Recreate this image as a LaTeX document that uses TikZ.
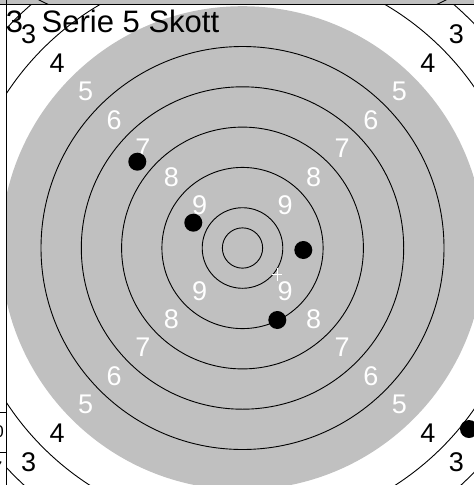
\documentclass[tikz,border=0pt]{standalone}
\usepackage{fontspec}
\setmainfont{Liberation Sans}
\definecolor{tgray}{HTML}{C0C0C0}
\begin{document}
\begin{tikzpicture}[x=1pt,y=-1pt,
  ring/.style={draw=black,line width=0.9pt},
  wlab/.style={text=white,font=\fontsize{27}{27}\selectfont,inner sep=0pt},
  blab/.style={text=black,font=\fontsize{27}{27}\selectfont,inner sep=0pt},
  hole/.style={circle,fill=black,minimum size=18pt,inner sep=0pt},
  frame/.style={draw=black,line width=1pt}]
\useasboundingbox (0,0) rectangle (474,485);
\fill[white] (0,0) rectangle (474,485);
% top band (bottom edge of the panel above)
\fill[tgray] (0,0) rectangle (474,4.3);
\begin{scope}
  \clip (0,0) rectangle (474,4.3);
  \draw[black,line width=0.9pt] (242.5,-401) circle (449.5);
\end{scope}
\draw[frame] (0,4.3) -- (474,4.3);
% target
\coordinate (C) at (242.5,248);
\begin{scope}
  \clip (6.5,4.8) rectangle (474,485);
  \fill[tgray] (C) circle (241.8);
  \foreach \r in {20.15,40.3,80.6,120.9,161.2,201.5,282.1,322.4}
    \draw[ring] (C) circle (\r);
  \foreach \v/\r/\s in {9/60.45/wlab,8/100.75/wlab,7/141/wlab,6/181.4/wlab,5/221.7/wlab,4/262/blab,3/302.3/blab}{
    \pgfmathsetmacro{\d}{\r*0.7071}
    \node[\s] (tl\v) at (242.5-\d,248-\d) {\v};
    \node[\s] (tr\v) at (242.5+\d,248-\d) {\v};
    \node[\s] (bl\v) at (242.5-\d,248+\d) {\v};
    \node[\s] (br\v) at (242.5+\d,248+\d) {\v};
  }
  \node[hole] (h1) at (193.3,222.7) {};
  \node[hole] (h2) at (303.3,250) {};
  \node[hole] (h3) at (277.3,320) {};
  \node[hole] (h4) at (137.3,161.7) {};
  \node[hole] (h5) at (469,429) {};
  \draw[white,line width=0.8pt] (272,274) -- (282,274) (277,267.5) -- (277,281);
  \node[anchor=base west,inner sep=0pt,font=\fontsize{31}{31}\selectfont] (title) at (5.7,32.5) {3\hspace{18.6pt}Serie 5 Skott};
\end{scope}
% left panel edge
\draw[frame] (6.5,0) -- (6.5,485);
\draw[frame] (0,412) -- (6.5,412);
\draw[frame] (0,452) -- (6.5,452);
\begin{scope}
  \clip (0,405) rectangle (6,485);
  \node[anchor=east,inner sep=0pt,font=\fontsize{17}{17}\selectfont] (f0) at (4,432) {0};
  \node[anchor=east,inner sep=0pt,font=\fontsize{17}{17}\selectfont] (f7) at (2.5,468) {7};
\end{scope}
\end{tikzpicture}
\end{document}
